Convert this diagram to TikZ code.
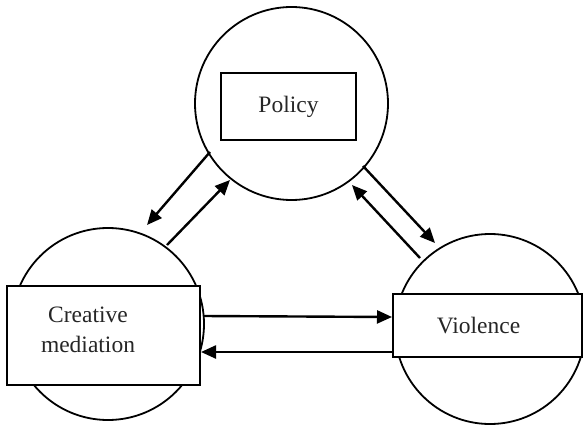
\documentclass[tikz,border=0pt]{standalone}
\usepackage{fontspec}
\setmainfont{Liberation Serif}
\usetikzlibrary{arrows.meta}
\begin{document}
\begin{tikzpicture}[x=1pt,y=-1pt,
  ring/.style={draw,circle,line width=1.8pt,inner sep=0pt},
  label box/.style={draw,fill=white,line width=2pt,inner sep=0pt,
    font=\fontsize{23.5}{29}\selectfont,align=center,text=black!85},
  flow/.style={line width=2.4pt,-{Triangle[length=15pt,width=13pt]}}]
\useasboundingbox (0,0) rectangle (583,425);
% circles
\node[ring,minimum size=193pt] (pc) at (291.5,103.5) {};
\node[ring,minimum size=192pt] (cc) at (108,324) {};
\node[ring,minimum size=190pt] (vc) at (490,329) {};
% labelled boxes
\node[label box,minimum width=135pt,minimum height=67pt] (pb) at (288.5,106.5) {Policy};
\node[label box,minimum width=193pt,minimum height=99pt] (cb) at (103.5,335.5) {};
\node[text=black!85,font=\fontsize{23.5}{30}\selectfont,align=center] (ct) at (88,330) {Creative\\mediation};
\node[label box,minimum width=189pt,minimum height=63pt] (vb) at (487.5,325.5) {\hspace*{-18pt}Violence};
% connector ends
\coordinate (p1) at (210,152);  \coordinate (c1) at (147,225);
\coordinate (c2) at (167,245);  \coordinate (p2) at (230,180);
\coordinate (p3) at (363,166);  \coordinate (v3) at (435,243);
\coordinate (v4) at (420,258);  \coordinate (p4) at (352,185);
\coordinate (c5) at (203,316);  \coordinate (v5) at (392,317);
\coordinate (v6) at (392,352);  \coordinate (c6) at (201,352);
% connectors
\draw[flow] (p1) -- (c1);
\draw[flow] (c2) -- (p2);
\draw[flow] (p3) -- (v3);
\draw[flow] (v4) -- (p4);
\draw[flow] (c5) -- (v5);
\draw[flow] (v6) -- (c6);
\end{tikzpicture}
\end{document}
